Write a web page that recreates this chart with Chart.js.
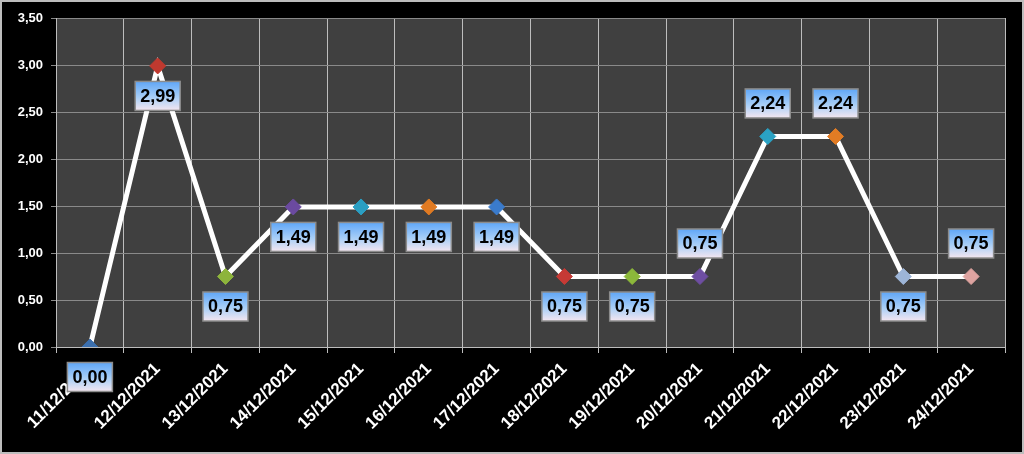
<!DOCTYPE html>
<html>
<head>
<meta charset="utf-8">
<script src="https://cdn.jsdelivr.net/npm/chart.js@4.4.1/dist/chart.umd.min.js"></script>
<style>
  html, body { margin: 0; padding: 0; background: #000; }
  #wrap { width: 1024px; height: 454px; }
</style>
</head>
<body>
<div id="wrap"><canvas id="chart" width="1024" height="454"></canvas></div>
<script>
const dates = ["11/12/2021", "12/12/2021", "13/12/2021", "14/12/2021", "15/12/2021", "16/12/2021", "17/12/2021",
  "18/12/2021", "19/12/2021", "20/12/2021", "21/12/2021", "22/12/2021", "23/12/2021", "24/12/2021"];
const values = [0.00, 2.99, 0.75, 1.49, 1.49, 1.49, 1.49, 0.75, 0.75, 0.75, 2.24, 2.24, 0.75, 0.75];
const markerColors = ["#3b6fae", "#c0392f", "#8db43c", "#6b4aa0", "#2a9ec2", "#e07a22", "#3a7bcc",
  "#c63a35", "#8cb83a", "#6e4ea2", "#2aa2c4", "#e27c24", "#9db5d8", "#dea3a0"];
// where each value box sits relative to its point
const labelSide = ["below", "below", "below", "below", "below", "below", "below",
  "below", "below", "above", "above", "above", "below", "above"];

const fmt = v => v.toFixed(2).replace(".", ",");

const frame = {
  id: "frame",
  beforeDraw(chart) {
    const { ctx, chartArea: a } = chart;
    ctx.save();
    ctx.fillStyle = "#000";
    ctx.fillRect(0, 0, chart.width, chart.height);
    ctx.fillStyle = "#404040";
    ctx.fillRect(a.left, a.top, a.right - a.left, a.bottom - a.top);
    ctx.strokeStyle = "#bdbdbd";
    ctx.lineWidth = 2;
    ctx.strokeRect(1, 1, chart.width - 2, chart.height - 2);
    ctx.restore();
  }
};

const valueBoxes = {
  id: "valueBoxes",
  afterDatasetsDraw(chart) {
    const { ctx } = chart;
    const meta = chart.getDatasetMeta(0);
    ctx.save();
    ctx.font = "bold 18px 'Liberation Sans', Arial, sans-serif";
    ctx.textAlign = "center";
    ctx.textBaseline = "middle";
    meta.data.forEach((pt, i) => {
      const cx = pt.x;
      const cy = pt.y + (labelSide[i] === "above" ? -33 : 30);
      const w = 45, h = 29;
      const x0 = cx - w / 2, y0 = cy - h / 2;
      const g = ctx.createLinearGradient(0, y0, 0, y0 + h);
      g.addColorStop(0, "#5fa6f7");
      g.addColorStop(0.55, "#a9cff7");
      g.addColorStop(1, "#f4e6f0");
      ctx.fillStyle = g;
      ctx.fillRect(x0, y0, w, h);
      ctx.strokeStyle = "#8c8c8c";
      ctx.lineWidth = 1.5;
      ctx.strokeRect(x0, y0, w, h);
      ctx.fillStyle = "#000";
      ctx.fillText(fmt(values[i]), cx, cy + 1);
    });
    ctx.restore();
  }
};

new Chart(document.getElementById("chart"), {
  type: "line",
  data: {
    labels: dates,
    datasets: [{
      data: values,
      borderColor: "#ffffff",
      borderWidth: 5,
      tension: 0,
      pointStyle: "rectRot",
      pointRadius: 8,
      pointHoverRadius: 8,
      pointBackgroundColor: markerColors,
      pointBorderColor: markerColors,
      pointBorderWidth: 1
    }]
  },
  options: {
    responsive: false,
    animation: false,
    layout: { padding: { left: 0, right: 19, top: 18, bottom: 0 } },
    plugins: {
      legend: { display: false },
      tooltip: { enabled: false }
    },
    scales: {
      x: {
        offset: true,
        grid: { color: "#bdbdbd", lineWidth: 1, offset: true, tickLength: 6, drawTicks: true },
        border: { color: "#bdbdbd" },
        ticks: {
          color: "#ffffff",
          font: { family: "'Liberation Sans', Arial, sans-serif", size: 17, weight: "bold" },
          minRotation: 45,
          maxRotation: 45,
          autoSkip: false,
          padding: 6
        },
        afterFit(scale) { scale.height = 107; }
      },
      y: {
        min: 0,
        max: 3.5,
        grid: { color: "#8a8a8a", lineWidth: 1, tickLength: 5 },
        border: { color: "#bdbdbd" },
        ticks: {
          stepSize: 0.5,
          color: "#ffffff",
          padding: 8,
          font: { family: "'Liberation Sans', Arial, sans-serif", size: 13, weight: "bold" },
          callback: v => fmt(v)
        },
        afterFit(scale) { scale.width = 56; }
      }
    }
  },
  plugins: [frame, valueBoxes]
});
</script>
</body>
</html>
